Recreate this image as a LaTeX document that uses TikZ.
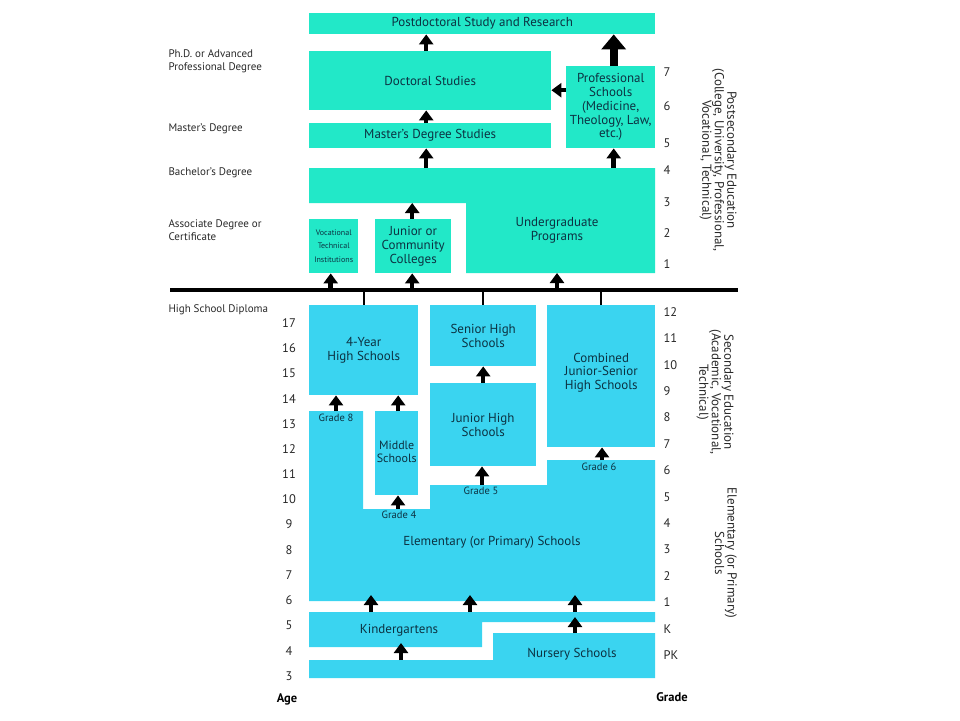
\documentclass[tikz,border=0pt]{standalone}
\usepackage{fontspec}
\setmainfont{PT Sans}
\usetikzlibrary{arrows.meta}
\definecolor{postsec}{RGB}{34,232,200}
\definecolor{school}{RGB}{58,212,240}
\definecolor{boxtext}{RGB}{12,50,66}
\definecolor{sidetext}{RGB}{40,40,40}
\tikzset{
  box/.style={anchor=north west, inner sep=0pt, align=center, text=boxtext,
    font=\fontsize{13}{13.7}\selectfont},
  tbox/.style={box, fill=postsec},
  sbox/.style={box, fill=school},
  boxlabel/.style={align=center, text=boxtext, font=\fontsize{13}{13.7}\selectfont},
  gradelabel/.style={text=boxtext, font=\fontsize{10.5}{11}\selectfont},
  sidelabel/.style={anchor=west, align=left, text=sidetext, font=\fontsize{11}{13.5}\selectfont},
  num/.style={text=sidetext, font=\fontsize{12.5}{13}\selectfont},
  band/.style={rotate=-90, align=center, text=sidetext, font=\fontsize{13}{12.5}\selectfont},
  arr/.style={-{Triangle[width=14pt,length=10pt]}, line width=4.5pt},
  bigarr/.style={-{Triangle[width=24pt,length=15pt]}, line width=8pt},
}
\begin{document}
\begin{tikzpicture}[x=1pt, y=-1pt]
\useasboundingbox (0,0) rectangle (960,720);

% postsecondary boxes
\node[tbox, minimum width=346pt, minimum height=21pt] (postdoc) at (309,13) {Postdoctoral Study and Research};
\node[tbox, minimum width=242pt, minimum height=59pt] (doctoral) at (309,51) {Doctoral Studies};
\node[tbox, minimum width=242pt, minimum height=25pt] (masters) at (309,123) {Master’s Degree Studies};
\node[tbox, minimum width=89pt, minimum height=82pt] (prof) at (566,66) {Professional\\Schools\\(Medicine,\\Theology, Law,\\etc.)};
\node[tbox, minimum width=49pt, minimum height=54pt, font=\fontsize{8}{13.5}\selectfont] (voc) at (309,219) {Vocational\\Technical\\Institutions};
\node[tbox, minimum width=76pt, minimum height=54pt] (jrcol) at (375,219) {Junior or\\Community\\Colleges};
\fill[postsec] (309,168) -- (655,168) -- (655,273) -- (466,273) -- (466,203) -- (309,203) -- cycle;
\node[boxlabel] (ug) at (557,230) {Undergraduate\\Programs};
\coordinate (ugtop) at (309,168);
\coordinate (ugmid) at (309,203);
\coordinate (ugbase) at (557,273);

% dividing line
\coordinate (hline) at (170,290);
\coordinate (hline-e) at (738,290);
\draw[line width=4pt] (hline) -- (hline-e);

% secondary boxes
\node[sbox, minimum width=109pt, minimum height=90pt] (fouryear) at (309,305) {4-Year\\High Schools};
\node[sbox, minimum width=106pt, minimum height=61pt] (senior) at (430,305) {Senior High\\Schools};
\node[sbox, minimum width=108pt, minimum height=142pt, text depth=10pt] (combined) at (547,305) {Combined\\Junior-Senior\\High Schools};
\node[sbox, minimum width=106pt, minimum height=83pt] (jrhigh) at (430,383) {Junior High\\Schools};
\node[sbox, minimum width=43pt, minimum height=84pt, text depth=3pt, font=\fontsize{12}{13}\selectfont] (middle) at (375,411) {Middle\\Schools};

% elementary and early schools
\fill[school] (309,411) -- (363,411) -- (363,509) -- (430,509) -- (430,485) -- (547,485)
  -- (547,460) -- (655,460) -- (655,601) -- (309,601) -- cycle;
\fill[school] (309,612) -- (655,612) -- (655,622) -- (482,622) -- (482,647) -- (309,647) -- cycle;
\fill[school] (309,660) -- (493,660) -- (493,633) -- (655,633) -- (655,678) -- (309,678) -- cycle;
\node[boxlabel] (elem) at (492,542) {Elementary (or Primary) Schools};
\node[boxlabel] (kinder) at (399,630) {Kindergartens};
\node[boxlabel] (nursery) at (572,654) {Nursery Schools};
\coordinate (g8) at (336,411);
\coordinate (g4) at (398,509);
\coordinate (g5) at (482,485);
\coordinate (g6) at (602,460);
\coordinate (elembase) at (309,601);
\coordinate (kindertop) at (309,612);
\coordinate (kinderbase) at (401,647);
\coordinate (stripbase) at (575,622);
\coordinate (nurserytop) at (575,633);
\coordinate (bottomtop) at (401,660);

\node[gradelabel] (g8-label) at (336,418) {Grade 8};
\node[gradelabel] (g4-label) at (399,515) {Grade 4};
\node[gradelabel] (g5-label) at (481,491) {Grade 5};
\node[gradelabel] (g6-label) at (599,467) {Grade 6};

% arrows
\draw[arr] ([xshift=-4pt]doctoral.north) -- ([xshift=-4pt]doctoral.north |- postdoc.south);
\draw[bigarr] ([xshift=3pt]prof.north) -- ([xshift=3pt]prof.north |- postdoc.south);
\draw[arr] ([yshift=17pt]prof.west) -- ([yshift=17pt]prof.west -| doctoral.east);
\draw[arr] ([xshift=-4pt]masters.north) -- ([xshift=-4pt]masters.north |- doctoral.south);
\draw[arr] ([xshift=-4pt]masters.south |- ugtop) -- ([xshift=-4pt]masters.south);
\draw[arr] ([xshift=3pt]prof.south |- ugtop) -- ([xshift=3pt]prof.south);
\draw[arr] ([xshift=-1pt]jrcol.north) -- ([xshift=-1pt]jrcol.north |- ugmid);
\draw[arr] ([xshift=-3pt]voc.south |- hline) -- ([xshift=-3pt]voc.south);
\draw[arr] ([xshift=-1pt]jrcol.south |- hline) -- ([xshift=-1pt]jrcol.south);
\draw[arr] (ugbase |- hline) -- (ugbase);
\foreach \b in {fouryear, senior, combined}
  \draw[line width=2pt] (\b.north |- hline) -- (\b.north);
\draw[arr] (g8) -- (g8 |- fouryear.south);
\draw[arr] ([xshift=1.5pt]middle.north) -- ([xshift=1.5pt]middle.north |- fouryear.south);
\draw[arr] (jrhigh.north) -- (senior.south);
\draw[arr] (g5) -- (g5 |- jrhigh.south);
\draw[arr] (g4) -- (g4 |- middle.south);
\draw[arr] (g6) -- (g6 |- combined.south);
\foreach \x in {371, 470, 575}
  \draw[arr, shorten >=-6pt] (\x,0 |- kindertop) -- (\x,0 |- elembase);
\draw[arr, shorten >=-5pt] (nurserytop) -- (stripbase);
\draw[arr, shorten >=-4pt] (bottomtop) -- (kinderbase);

% degrees on the left
\node[sidelabel] (phd) at (165,61.5) {Ph.D. or Advanced\\Professional Degree};
\node[sidelabel] (master-deg) at (165,129) {Master’s Degree};
\node[sidelabel] (bachelor-deg) at (165,173) {Bachelor’s Degree};
\node[sidelabel] (assoc-deg) at (165,230) {Associate Degree or\\Certificate};
\node[sidelabel] (hs-deg) at (165,310) {High School Diploma};

% age and grade scales
\foreach \a in {3,...,17}
  \node[num] (age-\a) at (289, {323+25.2*(17-\a)}) {\a};
\foreach \g/\y in {7/72, 6/106, 5/143, 4/170, 3/202, 2/233, 1/264}
  \node[num, anchor=west] (year-\g) at (660,\y) {\g};
\foreach \g [count=\i from 0] in {12,11,10,9,8,7,6,5,4,3,2,1,K,PK}
  \node[num, anchor=west] (grade-\g) at (660, {312+26.4*\i}) {\g};
\node[num, font=\fontsize{12.5}{13}\selectfont\bfseries, text=black] (age-title) at (287,699) {Age};
\node[num, font=\fontsize{12.5}{13}\selectfont\bfseries, text=black] (grade-title) at (672,697) {Grade};

% level bands on the right
\node[band] (band-post) at (718,160) {Postsecondary Education\\(College, University, Professional,\\Vocational, Technical)};
\node[band] (band-sec) at (715,392) {Secondary Education\\(Academic, Vocational,\\Technical)};
\node[band] (band-elem) at (726,553) {Elementary (or Primary)\\Schools};
\end{tikzpicture}
\end{document}
